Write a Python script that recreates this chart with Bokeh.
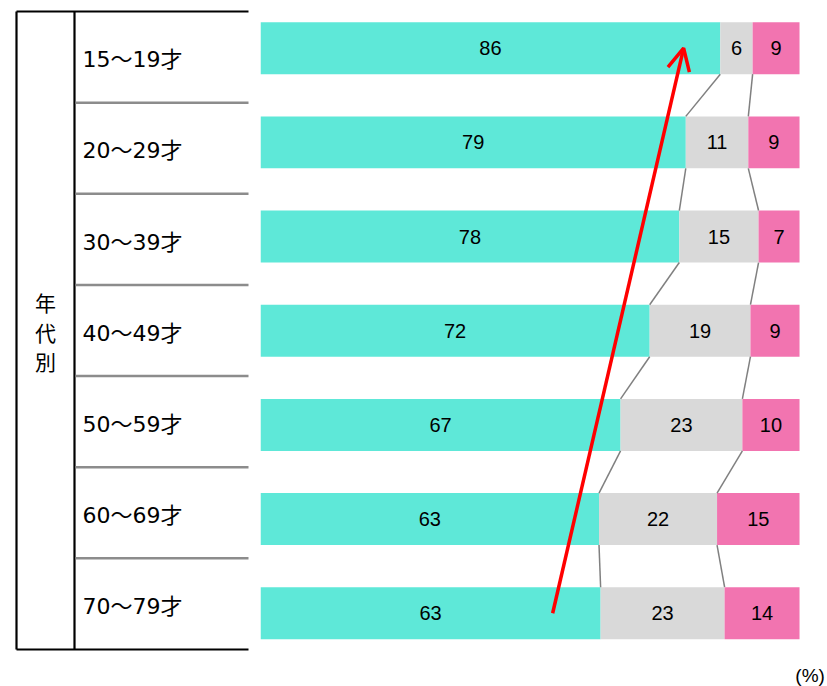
from bokeh.plotting import figure
from bokeh.layouts import row
from bokeh.models import Range1d, Arrow, OpenHead, Label
from bokeh.core.properties import value
from bokeh.embed import file_html
from bokeh.resources import INLINE

# ---- data ----
ages = ["15～19才", "20～29才", "30～39才", "40～49才", "50～59才", "60～69才", "70～79才"]
group_title = ["年", "代", "別"]
teal_lbl = [86, 79, 78, 72, 67, 63, 63]
gray_lbl = [6, 11, 15, 19, 23, 22, 23]
pink_lbl = [9, 9, 7, 9, 10, 15, 14]
# bar shares as drawn (unrounded)
teal_share = [85.3, 78.9, 77.7, 72.2, 66.8, 62.8, 63.1]
gray_share = [6.0, 11.6, 14.7, 18.7, 22.6, 21.9, 23.0]
pink_share = [8.7, 9.5, 7.6, 9.1, 10.6, 15.3, 13.9]
# red trend arrow (x in %, y in row index)
arrow_x = [54.2, 78.5]
arrow_y = [6.0, 0.0]

TEAL = "#5EE8D8"
GRAY = "#D9D9D9"
PINK = "#F274B0"
H = 0.552
n = len(ages)
rows = list(range(n))

# ---- left table figure ----
L = figure(width=260, height=686, x_range=Range1d(-8, 252), y_range=Range1d(7.406, -0.1207),
           output_backend="svg", toolbar_location=None, min_border=0,
           x_axis_location=None, y_axis_location=None, outline_line_color=None)
L.grid.visible = False
# outer frame
L.segment(x0=[8, 66, 8, 8], y0=[0, 0, 0, 7], x1=[8, 66, 240, 240], y1=[7, 7, 0, 7],
          line_color="black", line_width=2.2)
# row separators
L.segment(x0=[67] * (n - 1), y0=rows[1:], x1=[240] * (n - 1), y1=rows[1:],
          line_color="#8c8c8c", line_width=2.5)
L.text(x=[74] * n, y=[r + 0.53 for r in rows], text=ages, text_align="left",
       text_baseline="middle", text_font=value("DejaVu Sans, Noto Sans CJK JP"),
       text_font_size="22px", text_color="black")
L.text(x=[37] * 3, y=[3.19, 3.52, 3.83], text=group_title, text_align="center",
       text_baseline="middle", text_font=value("Noto Sans CJK JP"),
       text_font_size="21px", text_color="black")

# ---- right bar figure ----
R = figure(width=567, height=686, x_range=Range1d(0, 105.19), y_range=Range1d(6.778, -0.5065),
           output_backend="svg", toolbar_location=None, min_border=0,
           x_axis_location=None, y_axis_location=None, outline_line_color=None)
R.grid.visible = False

b1 = teal_share
b2 = [t + g for t, g in zip(teal_share, gray_share)]
b3 = [a + p for a, p in zip(b2, pink_share)]
R.hbar(y=rows, left=0, right=b1, height=H, fill_color=TEAL, line_color=None)
R.hbar(y=rows, left=b1, right=b2, height=H, fill_color=GRAY, line_color=None)
R.hbar(y=rows, left=b2, right=b3, height=H, fill_color=PINK, line_color=None)

# connector lines
for b in (b1, b2):
    R.segment(x0=b[:-1], y0=[r + H / 2 for r in rows[:-1]], x1=b[1:], y1=[r + 1 - H / 2 for r in rows[:-1]],
              line_color="#808080", line_width=1.5)

font = value("Liberation Sans")
for lo, hi, lbl in ((None, b1, teal_lbl), (b1, b2, gray_lbl), (b2, b3, pink_lbl)):
    lo = lo if lo is not None else [0] * n
    R.text(x=[(a + c) / 2 for a, c in zip(lo, hi)], y=rows, text=[str(v) for v in lbl],
           text_align="center", text_baseline="middle", text_font=font,
           text_font_size="20px", text_color="black")

R.add_layout(Arrow(end=OpenHead(line_color="red", line_width=3.5, size=22),
                   x_start=arrow_x[0], y_start=arrow_y[0], x_end=arrow_x[1], y_end=arrow_y[1],
                   line_color="red", line_width=3.5))

R.add_layout(Label(x=104.7, y=6.66, text="(%)", text_align="right", text_baseline="middle",
                   text_font="Liberation Sans", text_font_size="19px", text_color="black"))

layout = row(L, R)
open("out.html", "w").write(file_html(layout, INLINE))
